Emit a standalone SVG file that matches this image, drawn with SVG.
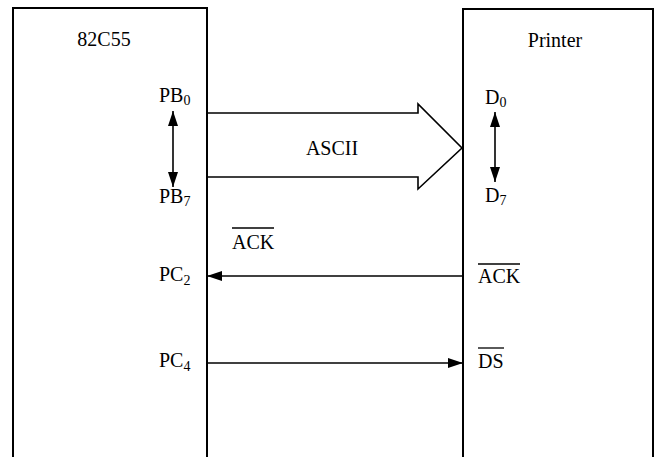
<svg xmlns="http://www.w3.org/2000/svg" width="657" height="457" viewBox="0 0 657 457">
<style>
text{font-family:"Liberation Serif","Times New Roman",serif;font-size:20px;fill:#000}
.sub{font-size:14px}
.box{fill:none;stroke:#000;stroke-width:2}
.ln{fill:none;stroke:#000;stroke-width:1.6}
.ov{stroke:#000;stroke-width:1.3}
</style>
<defs>
<marker id="ah2" viewBox="0 0 12 8" refX="12" refY="4" markerWidth="18" markerHeight="10" markerUnits="userSpaceOnUse" orient="auto-start-reverse"><path d="M0,0 L12,4 L0,8 Z" fill="#000"/></marker>
</defs>
<g id="chip">
<path class="box" d="M13,460 V8 H207 V460"/>
<text x="104" y="46" text-anchor="middle">82C55</text>
<text x="159" y="102">PB<tspan class="sub" dy="3">0</tspan></text>
<text x="159" y="203">PB<tspan class="sub" dy="3">7</tspan></text>
<text x="159" y="281">PC<tspan class="sub" dy="4">2</tspan></text>
<text x="159" y="367">PC<tspan class="sub" dy="4">4</tspan></text>
<line class="ln" x1="173" y1="111" x2="173" y2="187" marker-start="url(#ah2)" marker-end="url(#ah2)"/>
</g>
<g id="printer">
<path class="box" d="M463,460 V9 H653 V460"/>
<text x="555" y="47" text-anchor="middle">Printer</text>
<text x="485" y="104">D<tspan class="sub" dy="3">0</tspan></text>
<text x="485" y="202">D<tspan class="sub" dy="3">7</tspan></text>
<line class="ln" x1="495" y1="112" x2="495" y2="182" marker-start="url(#ah2)" marker-end="url(#ah2)"/>
<text x="478" y="283">ACK</text>
<line class="ov" x1="478" y1="264" x2="520" y2="264"/>
<text x="478" y="368">DS</text>
<line class="ov" x1="478" y1="348" x2="504" y2="348"/>
</g>
<g id="connectors">
<path class="ln" d="M207,113 H418 V104 L462,148 L418,189 V177 H207"/>
<text x="332" y="155" text-anchor="middle">ASCII</text>
<line class="ln" x1="463" y1="276" x2="207" y2="276" marker-end="url(#ah2)"/>
<text x="232" y="249">ACK</text>
<line class="ov" x1="232" y1="228" x2="274" y2="228"/>
<line class="ln" x1="207" y1="363" x2="463" y2="363" marker-end="url(#ah2)"/>
</g>
</svg>
